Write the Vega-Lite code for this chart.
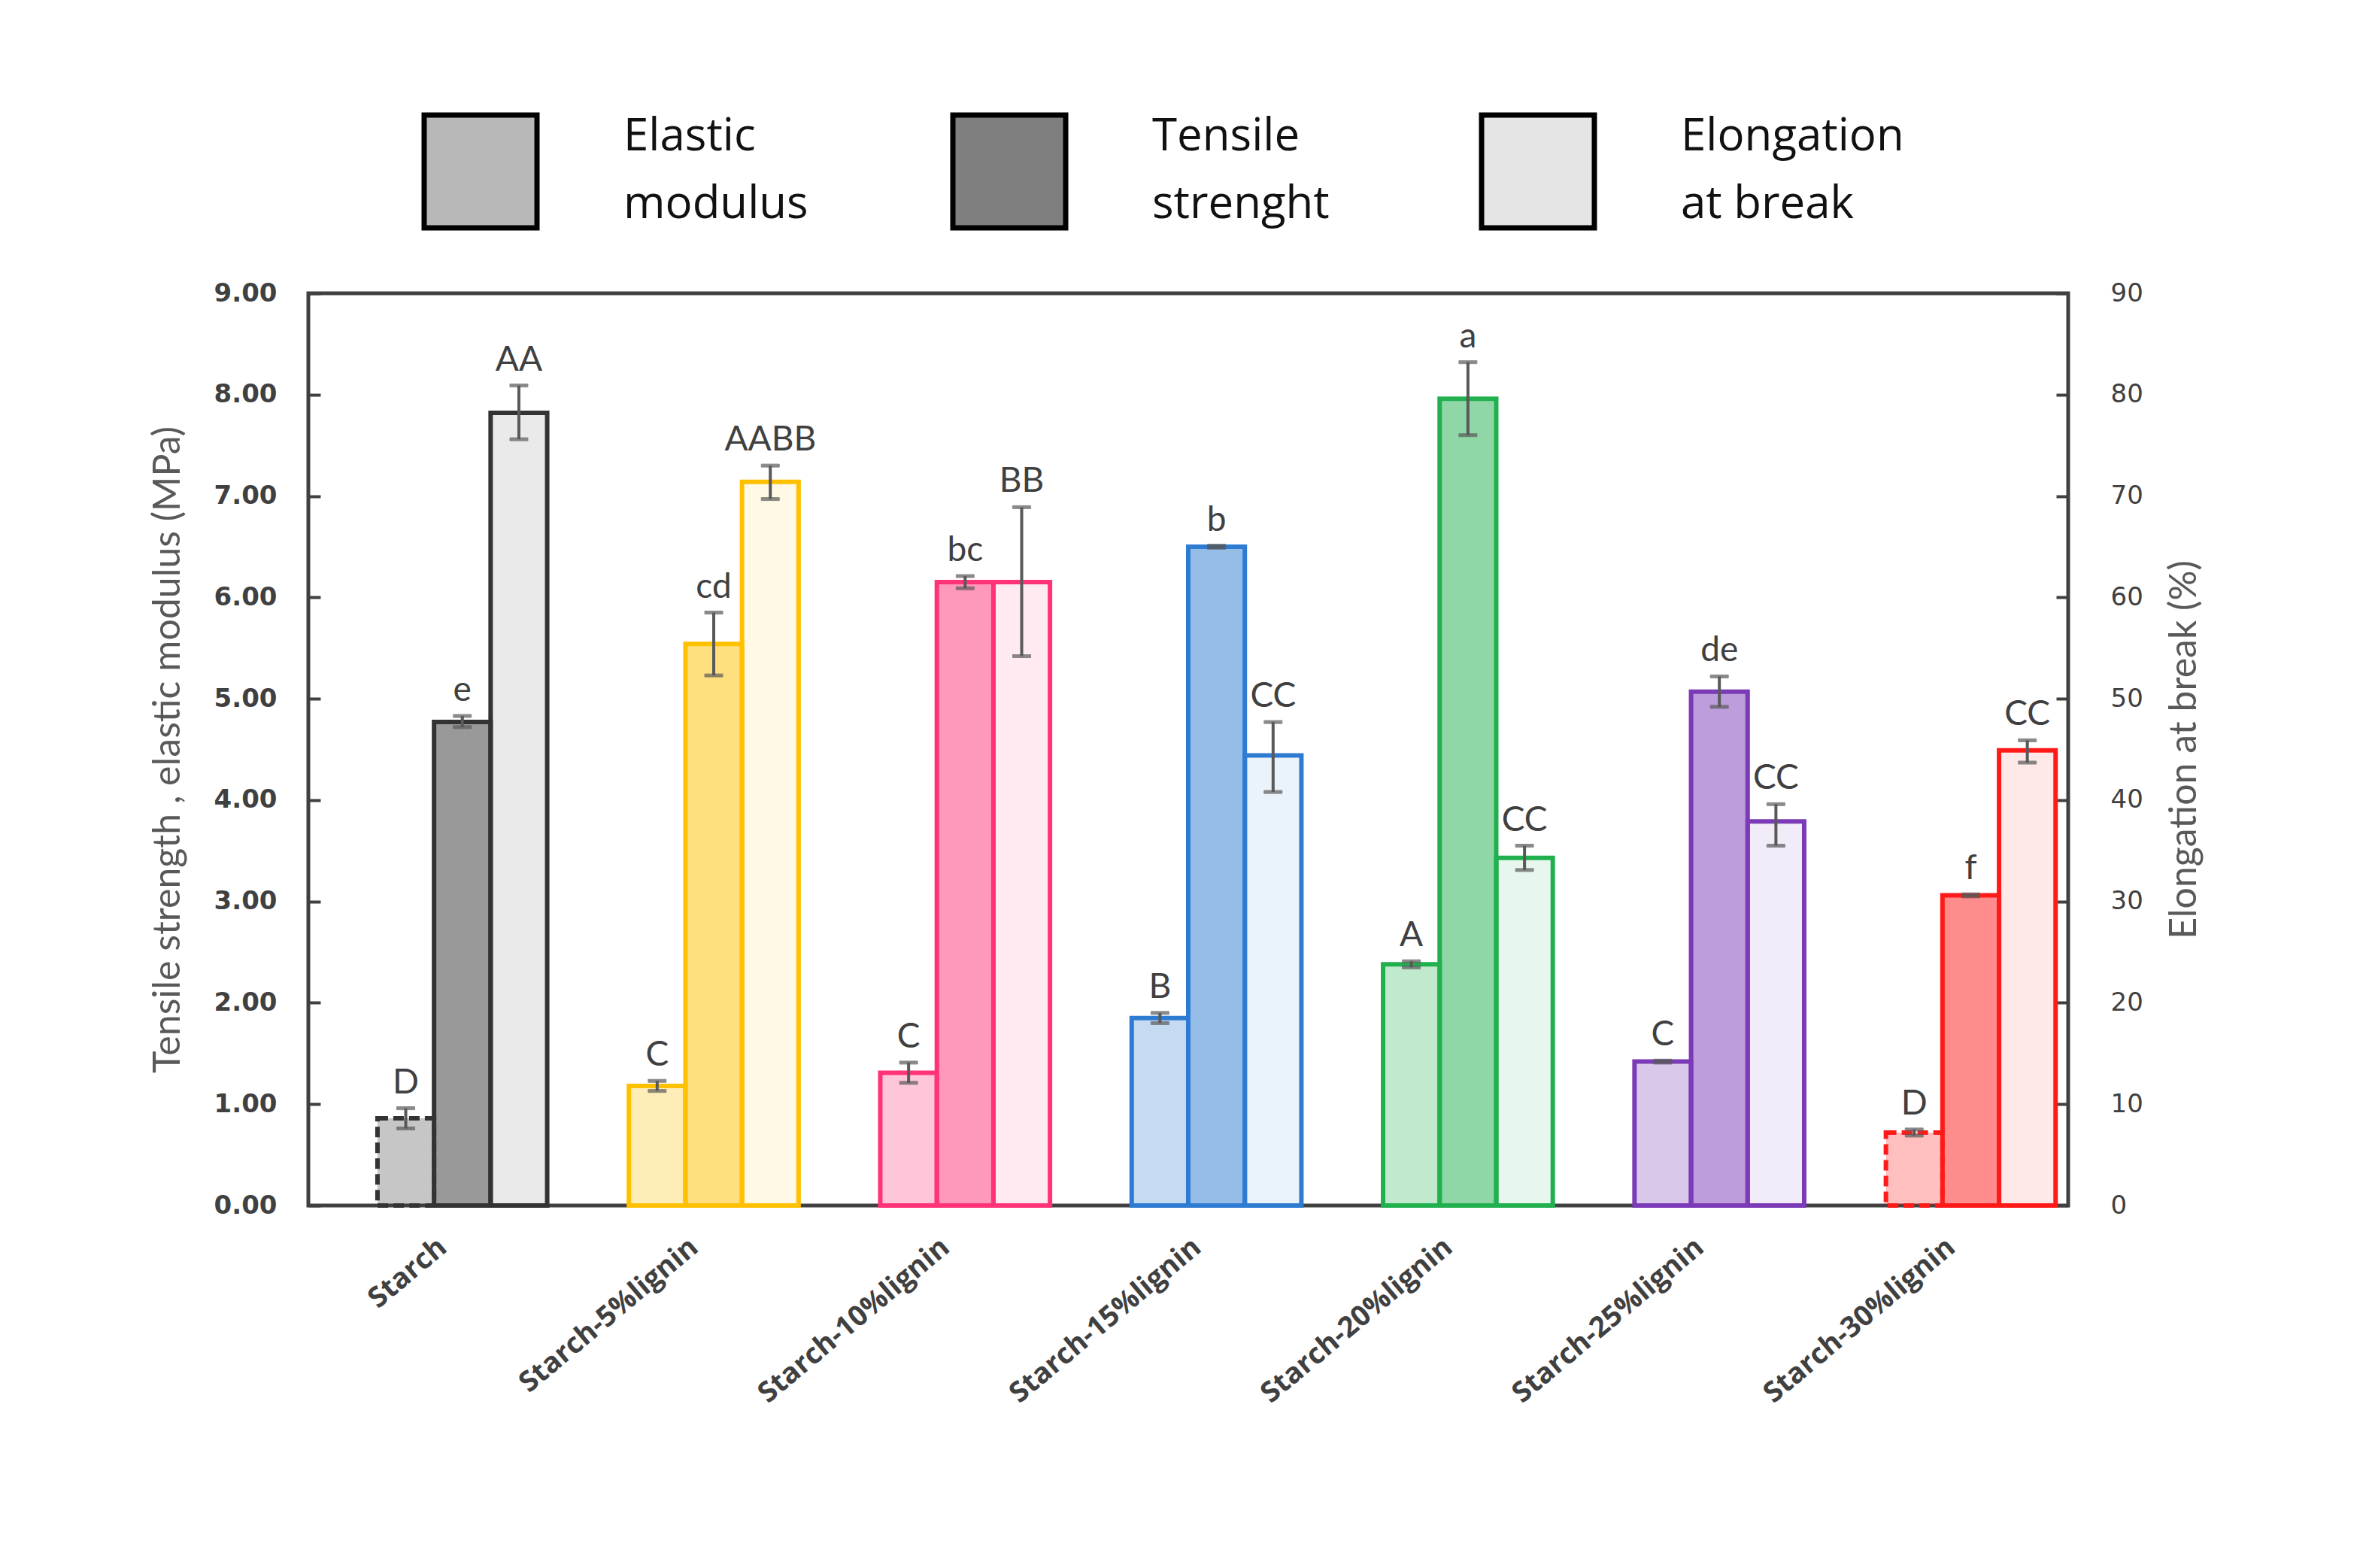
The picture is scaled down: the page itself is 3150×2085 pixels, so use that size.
{
  "$schema": "https://vega.github.io/schema/vega-lite/v6.json",
  "autosize": {"type": "pad"},
  "padding": {"left": 195, "top": 98, "right": 227, "bottom": 222},
  "background": "white",
  "bounds": "flush",
  "spacing": 32,
  "datasets": {
    "legend": [
      {"measure": "Elastic modulus", "label": "Elastic\nmodulus"},
      {"measure": "Tensile strenght", "label": "Tensile\nstrenght"},
      {"measure": "Elongation at break", "label": "Elongation\nat break"}
    ],
    "mpa": [
      {"sample": "Starch", "measure": "Elastic modulus", "value": 0.86, "lo": 0.76, "hi": 0.96, "letter": "D"},
      {"sample": "Starch", "measure": "Tensile strenght", "value": 4.77, "lo": 4.72, "hi": 4.83, "letter": "e"},
      {"sample": "Starch-5%lignin", "measure": "Elastic modulus", "value": 1.18, "lo": 1.13, "hi": 1.23, "letter": "C"},
      {"sample": "Starch-5%lignin", "measure": "Tensile strenght", "value": 5.54, "lo": 5.23, "hi": 5.85, "letter": "cd"},
      {"sample": "Starch-10%lignin", "measure": "Elastic modulus", "value": 1.31, "lo": 1.21, "hi": 1.41, "letter": "C"},
      {"sample": "Starch-10%lignin", "measure": "Tensile strenght", "value": 6.15, "lo": 6.09, "hi": 6.21, "letter": "bc"},
      {"sample": "Starch-15%lignin", "measure": "Elastic modulus", "value": 1.85, "lo": 1.8, "hi": 1.9, "letter": "B"},
      {"sample": "Starch-15%lignin", "measure": "Tensile strenght", "value": 6.5, "lo": 6.49, "hi": 6.51, "letter": "b"},
      {"sample": "Starch-20%lignin", "measure": "Elastic modulus", "value": 2.38, "lo": 2.35, "hi": 2.41, "letter": "A"},
      {"sample": "Starch-20%lignin", "measure": "Tensile strenght", "value": 7.96, "lo": 7.6, "hi": 8.32, "letter": "a"},
      {"sample": "Starch-25%lignin", "measure": "Elastic modulus", "value": 1.42, "lo": 1.41, "hi": 1.43, "letter": "C"},
      {"sample": "Starch-25%lignin", "measure": "Tensile strenght", "value": 5.07, "lo": 4.92, "hi": 5.22, "letter": "de"},
      {"sample": "Starch-30%lignin", "measure": "Elastic modulus", "value": 0.72, "lo": 0.69, "hi": 0.75, "letter": "D"},
      {"sample": "Starch-30%lignin", "measure": "Tensile strenght", "value": 3.06, "lo": 3.05, "hi": 3.07, "letter": "f"}
    ],
    "elong": [
      {"sample": "Starch", "measure": "Elongation at break", "value": 78.2, "lo": 75.6, "hi": 80.9, "letter": "AA"},
      {"sample": "Starch-5%lignin", "measure": "Elongation at break", "value": 71.4, "lo": 69.7, "hi": 73.0, "letter": "AABB"},
      {"sample": "Starch-10%lignin", "measure": "Elongation at break", "value": 61.5, "lo": 54.2, "hi": 68.9, "letter": "BB"},
      {"sample": "Starch-15%lignin", "measure": "Elongation at break", "value": 44.4, "lo": 40.8, "hi": 47.7, "letter": "CC"},
      {"sample": "Starch-20%lignin", "measure": "Elongation at break", "value": 34.3, "lo": 33.1, "hi": 35.5, "letter": "CC"},
      {"sample": "Starch-25%lignin", "measure": "Elongation at break", "value": 37.9, "lo": 35.5, "hi": 39.6, "letter": "CC"},
      {"sample": "Starch-30%lignin", "measure": "Elongation at break", "value": 44.9, "lo": 43.7, "hi": 45.9, "letter": "CC"}
    ]
  },
  "vconcat": [
    {
      "width": 2340,
      "height": 260,
      "view": {"stroke": null},
      "data": {"name": "legend"},
      "encoding": {
        "x": {"field": "measure", "type": "nominal", "sort": null, "scale": {"type": "point", "range": [229, 1635], "padding": 0}, "axis": null}
      },
      "layer": [
        {
          "mark": {"type": "point", "shape": "square", "size": 22500, "filled": true, "fill": "black", "stroke": "black", "strokeWidth": 7, "opacity": 1},
          "encoding": {
            "fillOpacity": {
              "field": "measure",
              "type": "nominal",
              "scale": {"type": "ordinal", "domain": ["Elastic modulus", "Tensile strenght", "Elongation at break"], "range": [0.28, 0.5, 0.1]},
              "legend": null
            }
          }
        },
        {
          "mark": {"type": "text", "align": "left", "baseline": "middle", "dx": 190, "dy": -46, "lineBreak": "\n", "lineHeight": 90, "font": "Open Sans", "fontSize": 60, "color": "#111111"},
          "encoding": {"text": {"field": "label"}}
        }
      ]
    },
    {
      "width": 2340,
      "height": 1213,
      "encoding": {
        "x": {
          "field": "sample",
          "type": "nominal",
          "sort": null,
          "title": null,
          "scale": {"paddingInner": 0.1, "paddingOuter": 0.05},
          "axis": {
            "labelAngle": -40,
            "labelFont": "Open Sans",
            "labelFontWeight": "bold",
            "labelFontSize": 38,
            "labelColor": "#404040",
            "labelPadding": 36,
            "labelLimit": 800,
            "ticks": false,
            "domain": false
          }
        },
        "xOffset": {
          "field": "measure",
          "type": "nominal",
          "scale": {"domain": ["_gap", "Elastic modulus", "Tensile strenght", "Elongation at break"], "paddingInner": 0, "paddingOuter": 0}
        },
        "color": {
          "field": "sample",
          "type": "nominal",
          "scale": {
            "domain": ["Starch", "Starch-5%lignin", "Starch-10%lignin", "Starch-15%lignin", "Starch-20%lignin", "Starch-25%lignin", "Starch-30%lignin"],
            "range": ["#333333", "#FFC000", "#FF3377", "#2E7CD2", "#22B04F", "#7B3BB7", "#FF1A1A"]
          },
          "legend": null
        },
        "stroke": {
          "field": "sample",
          "type": "nominal",
          "scale": {
            "domain": ["Starch", "Starch-5%lignin", "Starch-10%lignin", "Starch-15%lignin", "Starch-20%lignin", "Starch-25%lignin", "Starch-30%lignin"],
            "range": ["#333333", "#FFC000", "#FF3377", "#2E7CD2", "#22B04F", "#7B3BB7", "#FF1A1A"]
          },
          "legend": null
        },
        "fillOpacity": {
          "field": "measure",
          "type": "nominal",
          "scale": {"type": "ordinal", "domain": ["Elastic modulus", "Tensile strenght", "Elongation at break"], "range": [0.28, 0.5, 0.1]},
          "legend": null
        }
      },
      "layer": [
        {
          "data": {"name": "mpa"},
          "layer": [
            {
              "mark": {"type": "bar", "strokeWidth": 6},
              "encoding": {
                "y": {
                  "field": "value",
                  "type": "quantitative",
                  "scale": {"domain": [0, 9], "nice": false},
                  "axis": {
                    "orient": "left",
                    "title": "Tensile strength , elastic modulus (MPa)",
                    "values": [0, 1, 2, 3, 4, 5, 6, 7, 8, 9],
                    "format": ".2f",
                    "grid": false,
                    "domain": false,
                    "tickSize": -16,
                    "tickWidth": 4,
                    "tickColor": "#404040",
                    "labelFont": "DejaVu Sans",
                    "labelFontWeight": "bold",
                    "labelFontSize": 34,
                    "labelColor": "#404040",
                    "labelPadding": 58,
                    "titleFont": "Lato",
                    "titleFontSize": 50,
                    "titleFontWeight": "normal",
                    "titleColor": "#595959",
                    "titlePadding": 36
                  }
                },
                "strokeDash": {
                  "condition": {
                    "test": "datum.measure == 'Elastic modulus' && (datum.sample == 'Starch' || datum.sample == 'Starch-30%lignin')",
                    "value": [14, 7]
                  },
                  "value": [1, 0]
                }
              }
            },
            {
              "mark": {"type": "rule", "color": "#595959", "strokeWidth": 4},
              "encoding": {
                "y": {"field": "lo", "type": "quantitative"},
                "y2": {"field": "hi"},
                "color": {"value": "#595959"},
                "stroke": {"value": "#595959"},
                "fillOpacity": {"value": 1}
              }
            },
            {
              "mark": {"type": "tick", "color": "#595959", "thickness": 4, "size": 24, "orient": "horizontal"},
              "encoding": {
                "y": {"field": "lo", "type": "quantitative"},
                "color": {"value": "#595959"},
                "stroke": {"value": "#595959"},
                "fillOpacity": {"value": 1}
              }
            },
            {
              "mark": {"type": "tick", "color": "#595959", "thickness": 4, "size": 24, "orient": "horizontal"},
              "encoding": {
                "y": {"field": "hi", "type": "quantitative"},
                "color": {"value": "#595959"},
                "stroke": {"value": "#595959"},
                "fillOpacity": {"value": 1}
              }
            },
            {
              "mark": {"type": "text", "font": "Lato", "fontSize": 46, "baseline": "bottom", "dy": -10},
              "encoding": {
                "y": {"field": "hi", "type": "quantitative"},
                "text": {"field": "letter"},
                "color": {"value": "#404040"},
                "stroke": {"value": null},
                "fillOpacity": {"value": 1}
              }
            }
          ]
        },
        {
          "data": {"name": "elong"},
          "layer": [
            {
              "mark": {"type": "bar", "strokeWidth": 6},
              "encoding": {
                "y": {
                  "field": "value",
                  "type": "quantitative",
                  "scale": {"domain": [0, 90], "nice": false},
                  "axis": {
                    "orient": "right",
                    "title": "Elongation at break  (%)",
                    "titleAngle": -90,
                    "titleBaseline": "top",
                    "values": [0, 10, 20, 30, 40, 50, 60, 70, 80, 90],
                    "grid": false,
                    "domain": false,
                    "tickSize": -16,
                    "tickWidth": 4,
                    "tickColor": "#404040",
                    "labelFont": "DejaVu Sans",
                    "labelFontSize": 34,
                    "labelColor": "#404040",
                    "labelPadding": 72,
                    "titleFont": "Lato",
                    "titleFontSize": 50,
                    "titleFontWeight": "normal",
                    "titleColor": "#595959",
                    "titlePadding": 30
                  }
                }
              }
            },
            {
              "mark": {"type": "rule", "color": "#595959", "strokeWidth": 4},
              "encoding": {
                "y": {"field": "lo", "type": "quantitative"},
                "y2": {"field": "hi"},
                "color": {"value": "#595959"},
                "stroke": {"value": "#595959"},
                "fillOpacity": {"value": 1}
              }
            },
            {
              "mark": {"type": "tick", "color": "#595959", "thickness": 4, "size": 24, "orient": "horizontal"},
              "encoding": {
                "y": {"field": "lo", "type": "quantitative"},
                "color": {"value": "#595959"},
                "stroke": {"value": "#595959"},
                "fillOpacity": {"value": 1}
              }
            },
            {
              "mark": {"type": "tick", "color": "#595959", "thickness": 4, "size": 24, "orient": "horizontal"},
              "encoding": {
                "y": {"field": "hi", "type": "quantitative"},
                "color": {"value": "#595959"},
                "stroke": {"value": "#595959"},
                "fillOpacity": {"value": 1}
              }
            },
            {
              "mark": {"type": "text", "font": "Lato", "fontSize": 46, "baseline": "bottom", "dy": -10},
              "encoding": {
                "y": {"field": "hi", "type": "quantitative"},
                "text": {"field": "letter"},
                "color": {"value": "#404040"},
                "stroke": {"value": null},
                "fillOpacity": {"value": 1}
              }
            }
          ]
        }
      ],
      "resolve": {"scale": {"y": "independent"}}
    }
  ],
  "resolve": {"scale": {"x": "independent", "xOffset": "independent", "fillOpacity": "independent"}},
  "config": {
    "view": {"stroke": "#404040", "strokeWidth": 5}
  }
}
